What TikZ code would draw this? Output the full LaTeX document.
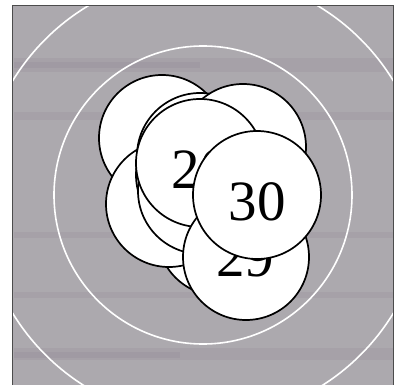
\documentclass[tikz,border=0pt]{standalone}
\usepackage{fontspec}
\setmainfont{Liberation Serif}
\begin{document}
\begin{tikzpicture}[x=1pt,y=-1pt,
  disc/.style={circle,draw=black,fill=white,line width=1.7pt,minimum size=126pt,inner sep=0pt},
  ring/.style={draw=white,line width=1.6pt},
  streakband/.style={fill=streak,opacity=0.14},
  num/.style={font=\fontsize{57}{57}\selectfont,inner sep=0pt}]
\useasboundingbox (0,0) rectangle (394,385);
\definecolor{scan}{RGB}{172,169,174}
\definecolor{streak}{RGB}{130,115,138}
% background
\fill[white] (0,0) rectangle (394,385);
\fill[scan] (12,5) rectangle (394,385);
\begin{scope}
\clip (12,5) rectangle (394,385);
\fill[streakband] (14,58) rectangle (394,72);
\fill[streakband] (14,62) rectangle (200,68);
\fill[streakband] (14,112) rectangle (394,120);
\fill[streakband] (14,232) rectangle (394,238);
\fill[streakband] (14,292) rectangle (394,298);
\fill[streakband] (14,348) rectangle (394,360);
\fill[streakband] (14,352) rectangle (180,358);
\draw[ring] (203,197) circle[radius=223];
\draw[ring] (203,195) circle[radius=149];
\end{scope}
\draw[black!70,line width=0.8pt] (12,385) -- (12,5) -- (393,5) -- (393,385);
% discs, bottom to top
\node[disc] (a) at (162,138) {};
\node[disc] (x) at (200,156) {};
\node[disc] (b) at (243,147) {};
\node[disc] (h) at (220,233) {};
\node[disc] (d) at (169,204) {};
\node[disc] (e) at (199,175) {};
\node[disc] (f) at (201,191) {};
\node[disc,minimum size=128pt] (c) at (200,163) {};
\node[num] (tc) at (200,170) {20};
\node[disc] (g) at (246,257) {};
\node[num] (tg) at (245,258) {29};
\node[disc,minimum size=128pt] (t) at (257,195) {};
\node[num] (tt) at (257,202) {30};
\end{tikzpicture}
\end{document}
